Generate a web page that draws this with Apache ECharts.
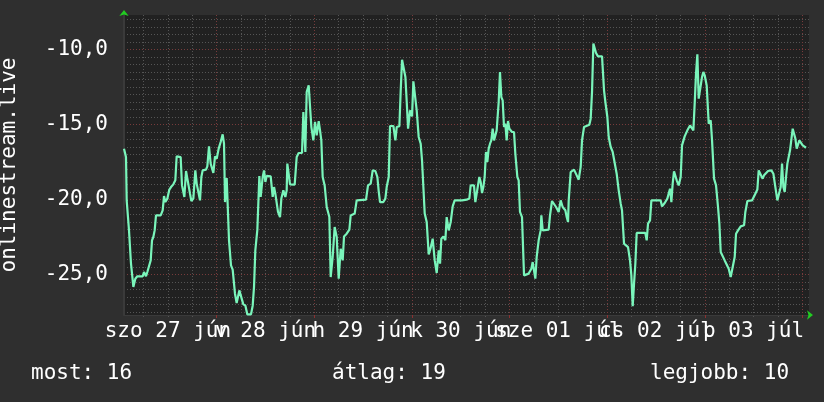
<!DOCTYPE html>
<html>
<head>
<meta charset="utf-8">
<script src="https://cdn.jsdelivr.net/npm/echarts@6/dist/echarts.min.js"></script>
<style>
html,body{margin:0;padding:0;background:#2f2f2f;}
#c{width:824px;height:402px;}
</style>
</head>
<body>
<div id="c"></div>
<script>
// Hours since 00:00 Sat 27 Jun
const hours = [
1.2,1.69,1.86,2.35,2.43,2.84,2.92,3.33,3.5,3.82,3.99,4.48,5.79,6.12,6.45,6.61,6.94,7.27,7.43,7.76,8.09,8.41,8.74,9.07,10.22,10.71,11.04,11.36,11.86,12.35,12.76,13.33,13.82,14.15,14.64,15.13,15.46,15.79,16.04,16.45,16.94,17.43,17.76,18.25,18.74,19.07,19.48,19.89,20.22,20.54,21.36,21.69,22.1,22.51,22.84,23.17,23.58,23.99,24.48,24.97,25.46,25.79,26.04,26.45,26.77,27.02,27.51,27.92,28.49,28.9,29.23,29.56,30.05,30.54,31.04,31.53,32.43,32.84,33.17,33.49,33.99,34.48,34.81,35.3,35.63,35.96,36.28,37.27,37.76,38.09,38.41,38.74,39.07,39.56,39.89,40.38,40.87,41.2,41.36,41.69,42.02,43.17,43.66,44.15,44.97,45.3,45.79,46.12,46.61,46.94,47.27,47.76,48.17,48.58,49.07,49.4,49.72,50.05,50.54,51.04,51.69,52.02,52.51,53.0,53.5,53.99,54.48,54.97,55.3,55.95,56.61,56.94,57.92,58.41,60.71,61.2,61.86,62.35,63.0,63.5,63.82,64.15,64.97,65.46,65.79,66.29,66.61,67.44,67.93,68.26,68.91,69.24,69.57,70.06,70.39,70.72,71.05,71.54,72.03,72.35,72.84,73.17,73.66,74.15,74.48,74.81,75.14,75.63,76.12,76.61,77.1,77.6,78.09,78.58,78.91,79.23,79.73,80.22,80.54,81.04,81.53,82.02,82.51,
84.31,85.46,86.11,86.44,87.26,87.59,87.92,88.24,88.57,88.9,89.23,89.56,89.88,90.21,90.54,90.87,91.2,91.52,91.85,92.18,92.51,92.83,93.33,93.65,93.98,94.31,94.64,94.97,95.29,95.62,95.95,96.6,97.1,97.42,97.92,98.24,98.57,99.06,99.56,100.7,101.36,101.69,102.01,102.34,102.67,103.16,103.65,103.82,104.15,105.62,105.95,106.44,106.93,107.43,108.08,108.57,109.06,109.72,110.05,110.38,110.54,111.03,111.85,112.51,113.0,113.49,113.82,114.31,114.8,115.62,115.95,116.28,116.61,116.93,117.26,117.75,118.74,119.23,119.56,120.05,120.38,120.87,121.36,121.85,122.34,122.84,123.33,123.65,124.15,124.64,125.13,125.62,125.95,126.28,126.61,126.93,127.26,129.39,129.72,130.05,130.54,130.87,133.16,133.49,134.15,134.8,135.13,135.46,135.79,136.11,136.44,137.1,137.59,138.08,138.41,138.74,139.06,139.72,140.38,140.87,141.2,141.52,141.85,142.18,142.51,143.0,143.33,143.66,143.98,144.47,144.97,145.46,145.79,146.28,146.77,147.26,147.59,147.92,148.41,148.9,149.39,149.89,150.38,150.87,151.36,151.69,152.18,152.84,153.66,153.98,154.48,155.62,156.44,156.93,157.26,157.75,158.24,158.57,159.06,159.56,160.38,160.87,161.36,161.85,162.34,162.67,163.0,163.33,163.66,163.98,164.31,164.64,164.97,165.3,165.62,165.95,166.28,166.61,166.93,167.26,167.75,168.08,168.9
];
const values = [
-16.6,-17.16,-20.05,-20.05,-22.05,-22.05,-24.27,-24.27,-25.82,-25.82,-25.27,-25.11,-25.11,-24.82,-24.82,-25.11,-24.82,-24.9,-24.71,-24.05,-22.71,-22.49,-22.05,-21.05,-21.05,-20.71,-19.76,-20.16,-19.93,-19.33,-19.16,-18.98,-18.71,-17.11,-17.05,-17.16,-19.05,-19.11,-19.82,-18.09,-18.09,-19.6,-20.09,-19.93,-18.05,-18.93,-19.05,-20.05,-18.49,-18.05,-18.0,-17.78,-16.45,-17.6,-17.71,-18.22,-17.11,-17.27,-16.6,-16.16,-15.65,-16.27,-20.16,-18.56,-18.49,-22.71,-24.38,-24.67,-26.27,-26.89,-26.93,-26.05,-26.09,-26.98,-27.05,-27.65,-27.65,-27.07,-25.82,-23.38,-22.0,-18.42,-19.82,-18.49,-18.05,-18.82,-18.42,-18.45,-19.82,-19.16,-19.6,-19.56,-20.82,-21.16,-19.93,-19.38,-19.82,-19.38,-17.6,-17.6,-18.98,-19.0,-17.16,-16.89,-16.89,-14.16,-16.82,-12.82,-12.38,-12.38,-15.16,-16.05,-14.82,-15.71,-14.76,-15.38,-16.05,-18.49,-19.05,-20.49,-21.16,-25.16,-23.82,-21.82,-22.49,-25.27,-23.27,-24.05,-22.45,-22.27,-22.0,-21.05,-20.93,-20.05,-20.0,-19.05,-18.93,-18.05,-18.09,-18.49,-19.42,-20.16,-20.16,-19.93,-19.16,-18.49,-15.09,-15.09,-16.05,-15.16,-15.11,-12.71,-10.67,-10.71,-11.82,-13.49,-15.27,-14.05,-14.45,-12.11,-12.11,-14.05,-15.82,-16.27,-17.38,-19.16,-20.93,-21.49,-23.65,-23.2,-22.6,-24.05,-24.89,-23.38,-24.27,-22.6,-22.45,-22.71,-21.16,-22.05,-21.49,-20.45,-20.05,
-20.05,-20.0,-19.93,-19.05,-19.05,-20.16,-20.16,-19.05,-18.49,-18.82,-19.56,-19.16,-18.49,-16.82,-17.49,-16.6,-16.27,-16.05,-15.27,-16.05,-15.93,-15.38,-13.49,-11.49,-13.16,-13.38,-15.16,-14.93,-16.05,-14.76,-15.27,-15.49,-15.49,-16.93,-18.49,-18.71,-20.82,-21.16,-25.05,-24.93,-24.6,-24.16,-24.71,-25.27,-23.82,-22.71,-22.05,-21.05,-22.05,-22.0,-21.05,-20.09,-20.05,-20.49,-20.82,-20.05,-20.49,-20.71,-21.16,-21.49,-20.09,-18.16,-18.0,-18.38,-18.67,-17.82,-16.05,-15.16,-15.05,-15.0,-14.6,-12.82,-9.6,-9.71,-10.22,-10.45,-10.45,-12.71,-13.49,-14.49,-15.82,-16.49,-16.82,-16.89,-18.27,-19.38,-20.27,-20.71,-22.93,-22.98,-23.16,-24.05,-25.05,-27.11,-25.6,-24.27,-22.22,-22.22,-22.71,-21.6,-21.38,-20.05,-20.05,-20.45,-20.22,-19.93,-19.6,-19.27,-20.16,-18.93,-18.11,-18.71,-19.05,-18.49,-16.38,-16.27,-15.78,-15.38,-15.05,-15.05,-15.38,-13.6,-11.6,-10.31,-13.27,-13.27,-11.82,-11.49,-11.71,-12.38,-14.93,-14.71,-16.05,-18.6,-19.05,-20.49,-21.6,-23.49,-23.6,-24.05,-24.09,-24.6,-25.16,-24.49,-23.82,-22.27,-22.05,-21.78,-21.71,-20.82,-20.09,-20.05,-19.6,-19.33,-18.05,-18.05,-18.6,-18.38,-18.27,-18.09,-18.05,-18.27,-19.16,-20.05,-20.05,-19.16,-17.6,-19.16,-19.49,-18.49,-17.6,-17.16,-16.71,-16.71,-15.27,-15.27,-15.93,-16.6,-16.6,-16.05,-15.93,-16.38,-16.54
];
const dayLabels = ['szo 27 jún','v 28 jún','h 29 jún','k 30 jún','sze 01 júl','cs 02 júl','p 03 júl'];
const dayNoons = [12,36,60,84,108,132,156];
const midnights = [24,48,72,96,120,144,168];
const yMajor = [-25,-20,-15,-10];
const yTitle = 'onlinestream.live';
const legendTexts = ['most: 16','átlag: 19','legjobb: 10'];

const X_MIN = 1.2, X_MAX = 169.63, Y_MIN = -27.69, Y_MAX = -7.69;
const FONT = 'DejaVu Sans Mono';

const minorX = [];
for (let h = 6; h < X_MAX; h += 6) minorX.push(h);
const minorY = [];
for (let v = -27.5; v <= -8; v += 0.5) minorY.push(v);
// split labels in two sets so that overlapping neighbours are all drawn
const noonsEven = dayNoons.filter((d, i) => i % 2 === 0);
const noonsOdd = dayNoons.filter((d, i) => i % 2 === 1);
const dayFmt = v => dayLabels[Math.round((v - 12) / 24)] || '';
const xLabelStyle = {margin:6, color:'#ffffff', fontFamily:FONT, fontSize:21, hideOverlap:false,
  showMinLabel:true, showMaxLabel:true, formatter: dayFmt};

const chart = echarts.init(document.getElementById('c'), null, {renderer:'canvas'});
const gridDef = {left:124, top:15, width:685, height:300, outerBoundsMode:'none', containLabel:false};
chart.setOption({
  backgroundColor:'#2f2f2f',
  animation:false,
  title: [
    {text:legendTexts[0], left:31, top:363},
    {text:legendTexts[1], left:332, top:363},
    {text:legendTexts[2], left:650, top:363}
  ].map(t => Object.assign(t, {padding:0, textStyle:{color:'#ffffff', fontFamily:FONT, fontSize:21, fontWeight:'normal'}})),
  grid: [Object.assign({show:true, backgroundColor:'#212121', borderWidth:0}, gridDef)],
  xAxis: [
    {
      type:'value', min:X_MIN, max:X_MAX, gridIndex:0, position:'bottom',
      axisLine:{show:true, onZero:false, lineStyle:{color:'#3a3a3a', width:1}},
      axisTick:{show:true, customValues:midnights, length:3, inside:false, lineStyle:{color:'#8a3030'}},
      axisLabel:Object.assign({customValues:noonsEven}, xLabelStyle),
      splitLine:{show:true, lineStyle:{color:'#773b3b', type:[1,2], width:1}},
      z:3
    },
    {
      type:'value', min:X_MIN, max:X_MAX, gridIndex:0, position:'bottom',
      axisLine:{show:false},
      axisTick:{show:true, customValues:minorX, length:2, lineStyle:{color:'#555555'}},
      axisLabel:Object.assign({customValues:noonsOdd}, xLabelStyle),
      splitLine:{show:true, lineStyle:{color:'#555555', type:[1,2], width:1}},
      z:2
    },
    {
      type:'value', min:X_MIN, max:X_MAX, gridIndex:0, position:'bottom',
      axisLine:{show:true, onZero:false, symbol:['none','arrow'], symbolSize:[7,6], symbolOffset:[0,4],
        lineStyle:{color:'#22cc22', width:0}},
      axisTick:{show:false}, axisLabel:{show:false}, splitLine:{show:false}, z:4
    }
  ],
  yAxis: [
    {
      type:'value', min:Y_MIN, max:Y_MAX, gridIndex:0, position:'left',
      name:yTitle, nameLocation:'middle', nameGap:104, nameRotate:90,
      nameTextStyle:{color:'#ffffff', fontFamily:FONT, fontSize:21},
      axisLine:{show:true, onZero:false, lineStyle:{color:'#3a3a3a', width:2}},
      axisTick:{show:false, customValues:yMajor},
      axisLabel:{customValues:yMajor, margin:16, color:'#ffffff', fontFamily:FONT, fontSize:21,
        showMinLabel:true, showMaxLabel:true,
        formatter: v => v.toFixed(1).replace('.', ',')},
      splitLine:{show:true, lineStyle:{color:'#773b3b', type:[1,2], width:1}},
      z:3
    },
    {
      type:'value', min:Y_MIN, max:Y_MAX, gridIndex:0, position:'left',
      axisLine:{show:false}, axisTick:{show:false, customValues:minorY}, axisLabel:{show:false},
      splitLine:{show:true, lineStyle:{color:'#555555', type:[1,2], width:1}},
      z:2
    },
    {
      type:'value', min:Y_MIN, max:Y_MAX, gridIndex:0, position:'left',
      axisLine:{show:true, onZero:false, symbol:['none','arrow'], symbolSize:[7,6], symbolOffset:[0,5],
        lineStyle:{color:'#22cc22', width:0}},
      axisTick:{show:false}, axisLabel:{show:false}, splitLine:{show:false}, z:4
    }
  ],
  series: [{
    type:'line', xAxisIndex:0, yAxisIndex:0,
    data: hours.map((h,i) => [h, values[i]]),
    showSymbol:false, symbol:'none',
    lineStyle:{color:'#7af5bb', width:2.2},
    z:5
  }]
});
</script>
</body>
</html>
